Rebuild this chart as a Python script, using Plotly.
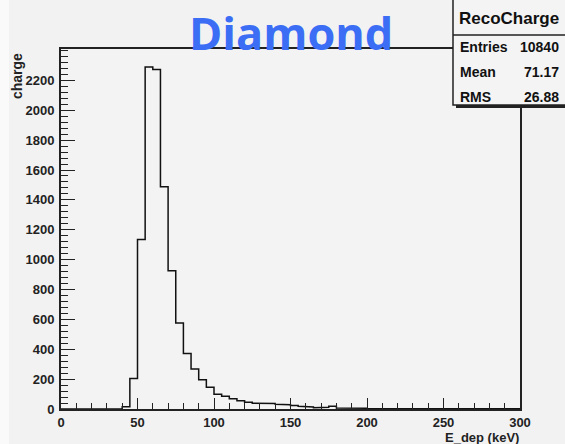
import plotly.graph_objects as go

# ---- data ----
bin_width = 5
bin_edges_low = list(range(0, 300, 5))
counts = [0, 0, 0, 0, 0, 0, 0, 0,
          15, 205, 1135, 2290, 2272, 1488, 925, 575, 372, 267, 196, 145,
          98, 86, 68, 55, 45, 38, 33, 37, 32, 28,
          24, 18, 13, 9, 11, 18, 7, 6, 10, 5,
          4, 3, 3, 2, 4, 3, 2, 2, 3, 2,
          2, 2, 3, 2, 2, 1, 2, 2, 1, 2]
x_ticks = [0, 50, 100, 150, 200, 250, 300]
y_ticks = [0, 200, 400, 600, 800, 1000, 1200, 1400, 1600, 1800, 2000, 2200]
stats_labels = ["Entries", "Mean", "RMS"]
stats_values = ["10840", "71.17", "26.88"]
hist_name = "RecoCharge"
title_text = "Diamond"
x_title = "E_dep (keV)"
y_title = "charge"

# step outline from histogram bins
xs = []
ys = []
for lo, c in zip(bin_edges_low, counts):
    xs += [lo, lo + bin_width]
    ys += [c, c]
xs = [xs[0]] + xs + [xs[-1]]
ys = [0] + ys + [0]

W, H = 565, 444
L, R, T, B = 61, 520, 49, 409


def px(x):
    return (x - L) / (R - L)


def py(y):
    return (B - y) / (B - T)


FONT = "Liberation Sans, Arial"

fig = go.Figure()
fig.add_trace(go.Scatter(x=xs, y=ys, mode="lines",
                         line=dict(color="#111111", width=1.5, shape="linear"),
                         hoverinfo="skip", showlegend=False))

tickfont = dict(family=FONT, size=13, color="#222222", weight="bold")

fig.update_layout(
    width=W, height=H,
    margin=dict(l=L, r=W - R, t=T, b=H - B),
    paper_bgcolor="#f2f2f2",
    plot_bgcolor="#f3f3f3",
    showlegend=False,
    xaxis=dict(range=[0, 300], tickvals=x_ticks, ticks="inside", ticklen=11,
               tickwidth=1.2, tickcolor="#222", showgrid=False, zeroline=False,
               showline=True, linecolor="#222", linewidth=2, mirror=True,
               tickfont=tickfont, ticklabelstandoff=0,
               minor=dict(dtick=10, ticks="inside", ticklen=6, tickwidth=1, tickcolor="#222")),
    yaxis=dict(range=[0, 2410], tickvals=y_ticks, ticks="inside", ticklen=14,
               tickwidth=1.2, tickcolor="#222", showgrid=False, zeroline=False,
               showline=True, linecolor="#222", linewidth=2, mirror=True,
               tickfont=tickfont, ticklabelstandoff=2,
               minor=dict(dtick=40, ticks="inside", ticklen=7, tickwidth=1, tickcolor="#222")),
)

shapes = []
# whiter left strip
shapes.append(dict(type="rect", xref="paper", yref="paper", x0=px(0), x1=px(9), y0=py(H), y1=py(0),
                   fillcolor="#fafafa", line=dict(width=0), layer="below"))
# stats box shadow
shapes.append(dict(type="rect", xref="paper", yref="paper", x0=px(456), x1=px(568), y0=py(108), y1=py(-3),
                   fillcolor="#222", line=dict(width=0), layer="above"))
# stats box
shapes.append(dict(type="rect", xref="paper", yref="paper", x0=px(453), x1=px(568), y0=py(105), y1=py(-3),
                   fillcolor="#f4f4f4", line=dict(color="#222", width=1.5), layer="above"))
shapes.append(dict(type="line", xref="paper", yref="paper", x0=px(453), x1=px(568), y0=py(35), y1=py(35),
                   line=dict(color="#222", width=1.5), layer="above"))
fig.update_layout(shapes=shapes)

ann = []
ann.append(dict(text=f"<b>{title_text}</b>", x=px(291), y=py(1), xref="paper", yref="paper",
                showarrow=False, xanchor="center", yanchor="top", borderpad=0,
                font=dict(family="Open Sans", size=45, color="#3b6ef5")))
statfont = dict(family=FONT, size=14, color="#111", weight="bold")
ann.append(dict(text=hist_name, x=px(509), y=py(18), xref="paper", yref="paper", showarrow=False,
                xanchor="center", yanchor="middle",
                font=dict(family=FONT, size=17, color="#111", weight="bold")))
for i, (lab, val) in enumerate(zip(stats_labels, stats_values)):
    yy = 47 + 25 * i
    ann.append(dict(text=lab, x=px(458), y=py(yy), xref="paper", yref="paper", showarrow=False,
                    xanchor="left", yanchor="middle", font=statfont))
    ann.append(dict(text=val, x=px(561), y=py(yy), xref="paper", yref="paper", showarrow=False,
                    xanchor="right", yanchor="middle", font=statfont))
ann.append(dict(text=y_title, x=px(17), y=py(51), xref="paper", yref="paper", showarrow=False,
                textangle=-90, xanchor="center", yanchor="top",
                font=dict(family=FONT, size=14, color="#222", weight="bold")))
ann.append(dict(text=x_title, x=px(521), y=py(437), xref="paper", yref="paper", showarrow=False,
                xanchor="right", yanchor="middle",
                font=dict(family=FONT, size=13, color="#222", weight="bold")))
fig.update_layout(annotations=ann)

fig.write_html("out.html")
